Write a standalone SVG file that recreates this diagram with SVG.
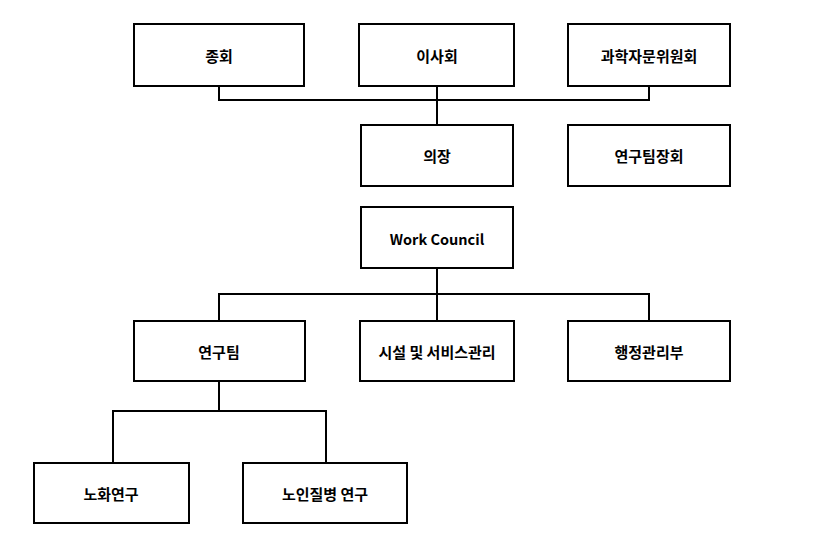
<svg xmlns="http://www.w3.org/2000/svg" width="839" height="553" viewBox="0 0 839 553">
<style>
.box{fill:#fff;stroke:#000;stroke-width:2}
.lbl{font-family:"Noto Sans CJK KR","Liberation Sans",sans-serif;font-size:15px;font-weight:bold;fill:#000;text-anchor:middle;dominant-baseline:central}
.lat{font-size:14.5px}
.con{fill:none;stroke:#000;stroke-width:2}
</style>
<rect width="839" height="553" fill="#fff"/>
<g id="connectors">
<path class="con" d="M219,86 V100 H649 V86"/>
<path class="con" d="M437,86 V125"/>
<path class="con" d="M437,268 V321"/>
<path class="con" d="M219,321 V294 H649 V321"/>
<path class="con" d="M219,381 V411"/>
<path class="con" d="M113,463 V411 H326 V463"/>
</g>
<g id="n-general"><rect class="box" x="134" y="24" width="170" height="62"/><text class="lbl" x="219" y="55">종회</text></g>
<g id="n-board"><rect class="box" x="359" y="24" width="155" height="62"/><text class="lbl" x="437" y="55">이사회</text></g>
<g id="n-advisory"><rect class="box" x="568" y="24" width="162" height="62"/><text class="lbl" x="649" y="55">과학자문위원회</text></g>
<g id="n-chair"><rect class="box" x="361" y="125" width="152" height="61"/><text class="lbl" x="437" y="155">의장</text></g>
<g id="n-leaders"><rect class="box" x="568" y="125" width="162" height="61"/><text class="lbl" x="649" y="155">연구팀장회</text></g>
<g id="n-work"><rect class="box" x="361" y="207" width="152" height="61"/><text class="lbl lat" x="437" y="238">Work Council</text></g>
<g id="n-team"><rect class="box" x="134" y="321" width="171" height="60"/><text class="lbl" x="219" y="351">연구팀</text></g>
<g id="n-facility"><rect class="box" x="360" y="321" width="154" height="60"/><text class="lbl" x="437" y="351">시설 및 서비스관리</text></g>
<g id="n-admin"><rect class="box" x="568" y="321" width="162" height="60"/><text class="lbl" x="649" y="351">행정관리부</text></g>
<g id="n-aging"><rect class="box" x="34" y="463" width="155" height="60"/><text class="lbl" x="111" y="493">노화연구</text></g>
<g id="n-disease"><rect class="box" x="243" y="463" width="164" height="60"/><text class="lbl" x="325" y="493">노인질병 연구</text></g>
</svg>
